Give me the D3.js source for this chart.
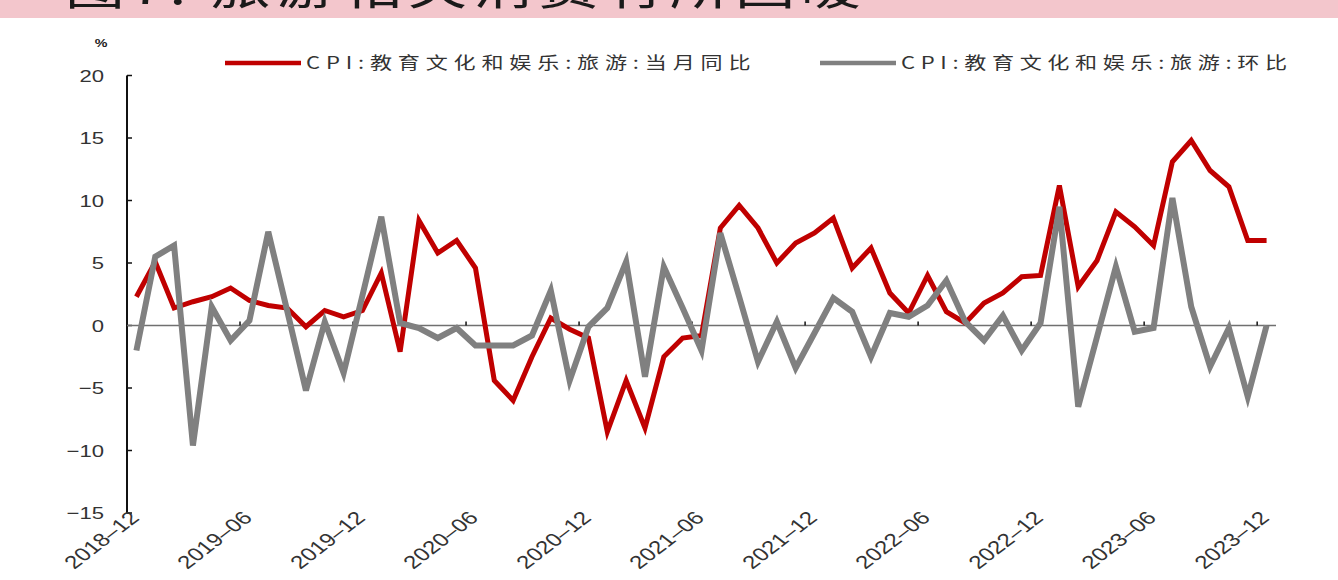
<!DOCTYPE html>
<html>
<head>
<meta charset="utf-8">
<script src="https://cdn.jsdelivr.net/npm/d3@7"></script>
<style>
  body { margin: 0; background: #fff; }
  svg { display: block; }
</style>
</head>
<body>
<div id="chart"></div>
<script>
// months 2018-12 .. 2023-12
const months = [];
for (let y = 2018, m = 12; y < 2024; ) {
  months.push(y + "-" + String(m).padStart(2, "0"));
  if (y === 2023 && m === 12) break;
  m++;
  if (m > 12) { m = 1; y++; }
}

const tickLabels = ["2018-12", "2019-06", "2019-12", "2020-06", "2020-12", "2021-06",
  "2021-12", "2022-06", "2022-12", "2023-06", "2023-12"];

// CPI:教育文化和娱乐:旅游:当月同比
const yoy = [2.3, 5.1, 1.4, 1.9, 2.3, 3.0, 2.0, 1.6, 1.4, -0.1, 1.2, 0.7, 1.2, 4.2, -2.1,
  8.4, 5.8, 6.8, 4.6, -4.4, -6.0, -2.5, 0.6, -0.3, -1.0, -8.5, -4.4, -8.2, -2.5, -1.0,
  -0.8, 7.8, 9.6, 7.8, 5.0, 6.6, 7.4, 8.6, 4.6, 6.2, 2.6, 1.0, 4.0, 1.1, 0.2,
  1.8, 2.6, 3.9, 4.0, 11.2, 3.1, 5.2, 9.1, 7.9, 6.4, 13.1, 14.8, 12.4, 11.1, 6.8, 6.8];

// CPI:教育文化和娱乐:旅游:环比
const mom = [-2.0, 5.5, 6.4, -9.6, 1.5, -1.2, 0.4, 7.5, 1.2, -5.2, 0.3, -3.8, 2.4, 8.7, 0.2,
  -0.2, -1.0, -0.2, -1.6, -1.6, -1.6, -0.8, 2.8, -4.4, -0.1, 1.4, 5.1, -4.1, 4.7, 1.4,
  -2.0, 7.4, 2.3, -2.9, 0.3, -3.4, -0.6, 2.2, 1.1, -2.5, 1.0, 0.7, 1.6, 3.6, 0.3,
  -1.2, 0.8, -2.0, 0.2, 9.5, -6.5, -0.9, 4.7, -0.5, -0.2, 10.2, 1.5, -3.3, -0.2, -5.7, 0.0];

const yTicks = [20, 15, 10, 5, 0, -5, -10, -15];

const seriesNames = ["CPI:教育文化和娱乐:旅游:当月同比", "CPI:教育文化和娱乐:旅游:环比"];
const colors = ["#c00000", "#808080"];

const W = 1338, H = 580;
const sx = 1.3; // picture is stretched sideways
const font = "'Liberation Sans', Arial, sans-serif";
const cjk = "'Noto Sans CJK SC', 'Liberation Sans', sans-serif";

const svg = d3.select("#chart").append("svg")
  .attr("width", W)
  .attr("height", H);

// title band (cut off at top, as in the source)
svg.append("rect")
  .attr("x", 0).attr("y", 0)
  .attr("width", W).attr("height", 18)
  .attr("fill", "#f3c6cc");
svg.append("text")
  .attr("transform", "translate(65,4) scale(" + sx + ",1)")
  .attr("textLength", 612)
  .attr("lengthAdjust", "spacing")
  .style("font-family", cjk)
  .style("font-size", "46px")
  .style("fill", "#1a1a1a")
  .text("图7: 旅游相关消费有所回暖");

const x = d3.scalePoint().domain(months).range([127, 1276]).padding(0.5);
const y = d3.scaleLinear().domain([-15, 20]).range([513, 75.5]);
const step = x.step();

// y axis
svg.append("line")
  .attr("x1", 127).attr("x2", 127)
  .attr("y1", y(20)).attr("y2", y(-15))
  .attr("stroke", "#111").attr("stroke-width", 2);
yTicks.forEach(v => {
  svg.append("line")
    .attr("x1", 127).attr("x2", 132)
    .attr("y1", y(v)).attr("y2", y(v))
    .attr("stroke", "#111").attr("stroke-width", 1.5);
  svg.append("text")
    .attr("transform", "translate(104," + (y(v) + 6) + ") scale(" + sx + ",1)")
    .attr("text-anchor", "end")
    .style("font-family", font)
    .style("font-size", "17px")
    .style("fill", "#333")
    .text(v < 0 ? "\u2212" + Math.abs(v) : v);
});
svg.append("text")
  .attr("transform", "translate(101,47) scale(" + sx + ",1)")
  .attr("text-anchor", "middle")
  .style("font-family", font)
  .style("font-size", "11px")
  .style("font-weight", "bold")
  .style("fill", "#222")
  .text("%");

// zero line + category ticks
svg.append("line")
  .attr("x1", 127).attr("x2", 1276)
  .attr("y1", y(0)).attr("y2", y(0))
  .attr("stroke", "#707070").attr("stroke-width", 1.6);
tickLabels.forEach(lbl => {
  const tx = x(lbl) - step / 2;
  if (tx > 128) {
    svg.append("line")
      .attr("x1", tx).attr("x2", tx)
      .attr("y1", y(0) - 4).attr("y2", y(0))
      .attr("stroke", "#111").attr("stroke-width", 1.5);
  }
  svg.append("text")
    .attr("transform", "translate(" + (x(lbl) + 4) + ",519) scale(" + sx + ",1) rotate(-45)")
    .attr("text-anchor", "end")
    .style("font-family", font)
    .style("font-size", "18.5px")
    .style("fill", "#333")
    .text(lbl.replace("-", "\u2013"));
});

// lines
const line = d3.line()
  .x((d, i) => x(months[i]))
  .y(d => y(d));

[yoy, mom].forEach((vals, k) => {
  svg.append("path")
    .datum(vals)
    .attr("d", line)
    .attr("fill", "none")
    .attr("stroke", colors[k])
    .attr("stroke-width", k === 0 ? 5 : 6)
    .attr("stroke-linejoin", "miter");
});

// legend
const legendX = [225, 820];
const legendLen = [342, 297];
seriesNames.forEach((name, k) => {
  svg.append("line")
    .attr("x1", legendX[k]).attr("x2", legendX[k] + 76)
    .attr("y1", 63).attr("y2", 63)
    .attr("stroke", colors[k]).attr("stroke-width", 4.5);
  svg.append("text")
    .attr("transform", "translate(" + (legendX[k] + 81) + ",69) scale(" + sx + ",1)")
    .attr("textLength", legendLen[k])
    .attr("lengthAdjust", "spacing")
    .style("font-family", cjk)
    .style("font-size", "17px")
    .style("fill", "#333")
    .text(name);
});
</script>
</body>
</html>
